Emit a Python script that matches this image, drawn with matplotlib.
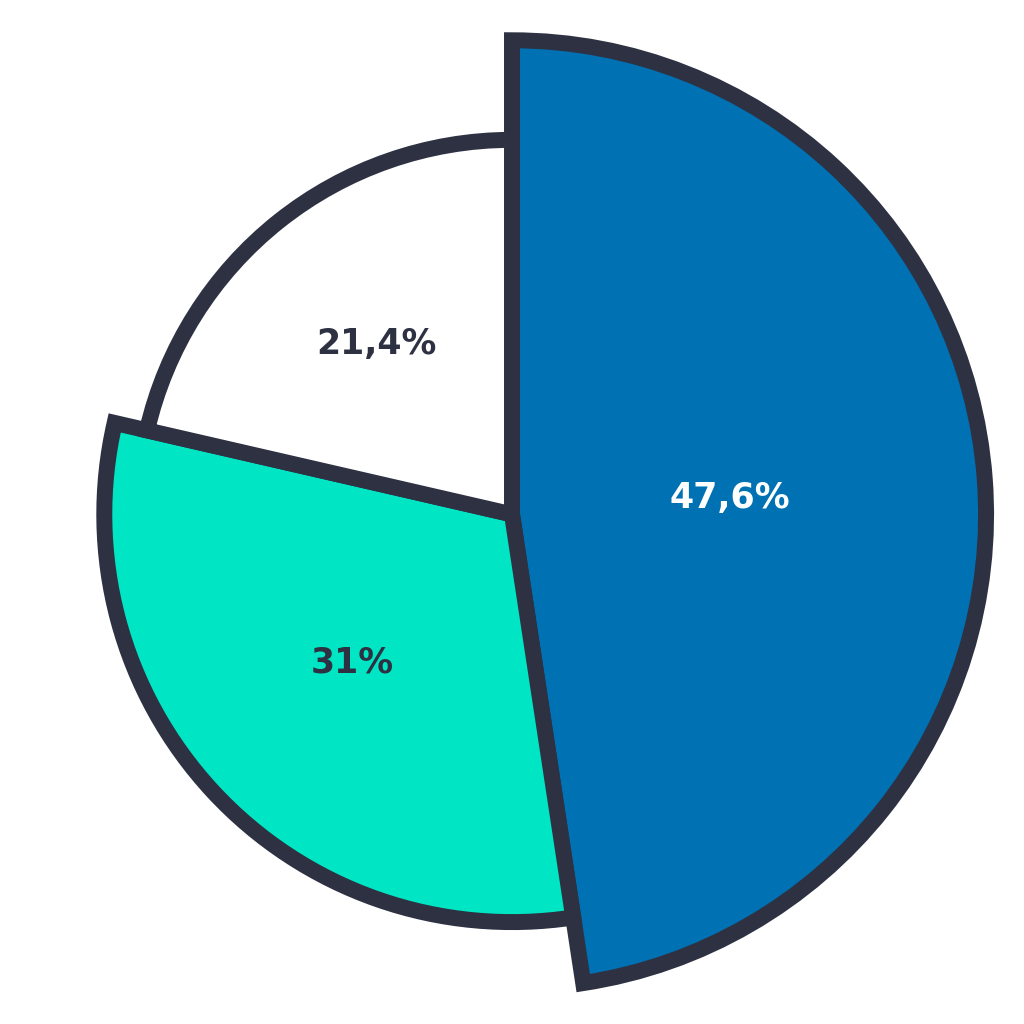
import matplotlib
matplotlib.use("Agg")
import matplotlib.pyplot as plt

# slice data, clockwise from 12 o'clock
shares = [47.6, 31.0, 21.4]
labels = ["47,6%", "31%", "21,4%"]
colors = ["#0071b3", "#00e6c4", "#ffffff"]
label_colors = ["#ffffff", "#2e3142", "#2e3142"]
radii = [1.0, 0.86, 0.79]

edge = "#2e3142"

fig = plt.figure(figsize=(10.24, 10.24), dpi=100)
ax = fig.add_axes([0, 0, 1, 1])

wedges, _ = ax.pie(shares, colors=colors, startangle=90, counterclock=False,
                   radius=1.0,
                   wedgeprops=dict(edgecolor=edge, linewidth=11.5, joinstyle="miter"))

# each slice gets its own radius
for w, r in zip(wedges, radii):
    w.set_radius(r)

# put labels at 0.46 of the largest radius along each slice's mid angle
import numpy as np
for w, lab, c in zip(wedges, labels, label_colors):
    mid = np.deg2rad((w.theta1 + w.theta2) / 2)
    ax.text(0.46 * np.cos(mid), 0.46 * np.sin(mid), lab, ha="center", va="center",
            fontsize=25, fontweight="bold", color=c, family="DejaVu Sans")

ax.set_xlim(-1.08, 1.08)
ax.set_ylim(-1.075, 1.085)
ax.set_aspect("equal")
ax.axis("off")

fig.savefig("out.png", dpi=100, facecolor="white")
